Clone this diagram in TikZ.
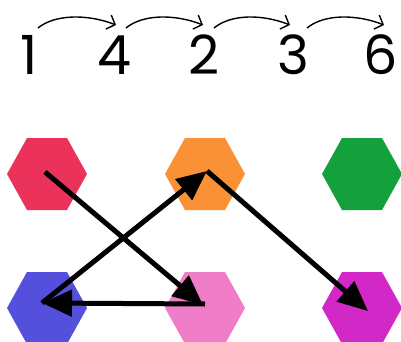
\documentclass[tikz,border=0pt]{standalone}
\usepackage{fontspec}
\setmainfont{Poppins}
\usetikzlibrary{arrows.meta,calc}
\definecolor{hred}{HTML}{EB325A}
\definecolor{horange}{HTML}{FA9137}
\definecolor{hgreen}{HTML}{14A03C}
\definecolor{hblue}{HTML}{5550DC}
\definecolor{hpink}{HTML}{F07DC8}
\definecolor{hmag}{HTML}{D228C8}
\begin{document}
\begin{tikzpicture}[x=1pt,y=-1pt,
  hexa/.style={rectangle, minimum width=80pt, minimum height=72pt, inner sep=0pt, outer sep=0pt,
    path picture={\fill[#1] (path picture bounding box.center) ++(-40pt,0pt) -- ++(20pt,36pt) -- ++(40pt,0pt)
      -- ++(20pt,-36pt) -- ++(-20pt,-36pt) -- ++(-40pt,0pt) -- cycle;}},
  num/.style={anchor=base, inner sep=0pt, font=\fontsize{54}{54}\selectfont},
  bigarrow/.style={line width=5pt, -{Triangle[length=30pt,width=26pt]}},
  smallarrow/.style={line width=1.4pt, -{Straight Barb[length=7pt,width=15pt]}}]
\useasboundingbox (0,0) rectangle (401,342);
% numbers
\node[num] (n1) at (29,75) {1};
\node[num] (n4) at (114,75) {4};
\node[num] (n2) at (204,75) {2};
\node[num] (n3) at (293,75) {3};
\node[num] (n6) at (381,75) {6};
% top arrows
\coordinate (s1) at (38,28);  \coordinate (e1) at (116,25);
\coordinate (s2) at (126,28); \coordinate (e2) at (203,25);
\coordinate (s3) at (214,28); \coordinate (e3) at (290,25);
\coordinate (s4) at (307,28); \coordinate (e4) at (384,25);
\draw[smallarrow] (s1) .. controls (55,14) and (88,14) .. (e1);
\draw[smallarrow] (s2) .. controls (143,14) and (175,14) .. (e2);
\draw[smallarrow] (s3) .. controls (231,14) and (262,14) .. (e3);
\draw[smallarrow] (s4) .. controls (324,14) and (356,14) .. (e4);
% hexagons
\node[hexa=hred] (red) at (47,174) {};
\node[hexa=horange] (orange) at (205,174) {};
\node[hexa=hgreen] (green) at (362,174) {};
\node[hexa=hblue] (blue) at (47,308) {};
\node[hexa=hpink] (pink) at (205,308) {};
\node[hexa=hmag] (mag) at (362,308) {};
% arrows
\draw[bigarrow] ([shift={(-2pt,2pt)}]red.center) -- ([shift={(-2pt,3pt)}]pink.center);
\draw[bigarrow] ([yshift=4pt]pink.center) -- ([shift={(-5pt,5pt)}]blue.center);
\draw[bigarrow] ([shift={(-5pt,5pt)}]blue.center) -- ([shift={(2pt,3pt)}]orange.center);
\draw[bigarrow] ([shift={(2pt,3pt)}]orange.center) -- ([shift={(6pt,-3pt)}]mag.center);
\end{tikzpicture}
\end{document}
